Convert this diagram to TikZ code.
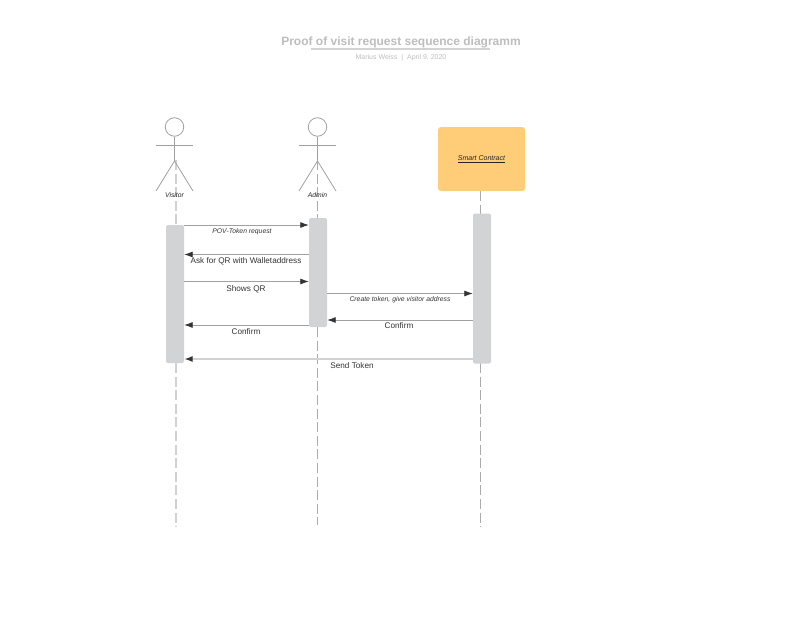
\documentclass[tikz,border=0pt]{standalone}
\usepackage{fontspec}
\usepackage{xcolor}
\setmainfont{Liberation Sans}
\usetikzlibrary{arrows.meta,positioning,calc}
\definecolor{lineGray}{HTML}{A0A0A0}
\definecolor{lifeGray}{HTML}{ABABAB}
\definecolor{lightGray}{HTML}{D2D2D2}
\definecolor{barGray}{HTML}{D2D3D5}
\definecolor{boxOrange}{HTML}{FFCC77}
\definecolor{titleGray}{HTML}{BDBDBD}
\definecolor{inkDark}{HTML}{333333}
\tikzset{
  actorline/.style={draw=lineGray,line width=0.8pt},
  lifeline/.style={draw=lifeGray,line width=1.1pt,dash pattern=on 10pt off 3.6pt},
  lifelinewide/.style={lifeline,draw=lightGray,line width=1.7pt},
  actbar/.style={draw=none,fill=barGray,rounded corners=2pt,minimum width=18pt,inner sep=0pt},
  msg/.style={draw=lineGray,line width=0.8pt,-{Latex[length=8.5pt,width=6pt,color=inkDark]}},
  msglight/.style={msg,draw=lightGray,line width=1.4pt},
  lab/.style={text=inkDark,font=\fontsize{8.2}{10}\selectfont,inner sep=0pt},
  labsmall/.style={text=inkDark,font=\fontsize{6.8}{8}\itshape\selectfont,inner sep=0pt},
}
\begin{document}
\begin{tikzpicture}[x=1pt,y=-1pt]
  \useasboundingbox (0,0) rectangle (800,618);

  % title block
  \node[text=titleGray,font=\fontsize{12}{14}\bfseries\selectfont,inner sep=0pt] (title) at (401,42.5) {Proof of visit request sequence diagramm};
  \node[text=titleGray,font=\fontsize{7}{8}\selectfont,inner sep=0pt] (subtitle) at (401,57.5) {Marius Weiss \ | \ April 9, 2020};
  \coordinate (ruleL) at (311,49);
  \coordinate (ruleR) at (490,49);
  \draw[draw=barGray,line width=1.2pt] (ruleL) -- (ruleR);

  % lifelines
  \foreach \nm/\x/\ya/\yb/\yc/\yd/\sty in {Visitor/176/160/225/363/527/lifelinewide,Admin/317.5/160/218/327/525/lifeline,Contract/480.5/191/214/363/527/lifeline}{
    \coordinate (life\nm A) at (\x,\ya);
    \coordinate (life\nm B) at (\x,\yb);
    \coordinate (life\nm C) at (\x,\yc);
    \coordinate (life\nm D) at (\x,\yd);
    \draw[\sty] (life\nm A) -- (life\nm B);
    \draw[\sty] (life\nm C) -- (life\nm D);
  }

  % activation bars
  \node[actbar,minimum height=138pt] (barVisitor) at (175,294) {};
  \node[actbar,minimum height=109pt] (barAdmin) at (318,272.5) {};
  \node[actbar,minimum height=150pt] (barContract) at (482,288.5) {};

  % smart contract box
  \node[fill=boxOrange,rounded corners=3pt,minimum width=87pt,minimum height=64pt,inner sep=0pt,
    font=\fontsize{7}{8}\itshape\selectfont,text=black!85] (contract) at (481.5,159) {\underline{Smart Contract}};

  % actors
  \foreach \nm/\x in {Visitor/174.5,Admin/317.5}{
    \node[circle,actorline,minimum size=18.5pt,inner sep=0pt] (head\nm) at (\x,127) {};
    \coordinate (armL\nm) at (\x-18.5,145);
    \coordinate (armR\nm) at (\x+18.5,145);
    \coordinate (hip\nm) at (\x,161);
    \coordinate (footL\nm) at (\x-18.5,191);
    \coordinate (footR\nm) at (\x+18.5,191);
    \draw[actorline] (head\nm) -- (hip\nm);
    \draw[actorline] (armL\nm) -- (armR\nm);
    \draw[actorline] (footL\nm) -- (hip\nm) -- (footR\nm);
    \node[labsmall,text=black!85] (name\nm) at (\x,195) {\nm};
  }

  % messages
  \foreach \y/\from/\fromside/\to/\toside/\sty in {
    225/Visitor/east/Admin/west/msg,
    254.5/Admin/west/Visitor/east/msg,
    281.5/Visitor/east/Admin/west/msg,
    293.5/Admin/east/Contract/west/msg,
    320/Contract/west/Admin/east/msg,
    325/Admin/west/Visitor/east/msg,
    359/Contract/west/Visitor/east/msglight}{
    \draw[\sty] (bar\from.\fromside |- 0,\y) -- (bar\to.\toside |- 0,\y);
  }

  % message labels
  \node[labsmall] (povLab) at (242,231.5) {POV-Token request};
  \node[lab] (askLab) at (246,261.5) {Ask for QR with Walletaddress};
  \node[lab] (showsLab) at (246,289) {Shows QR};
  \node[labsmall] (createLab) at (400,300) {Create token, give visitor address};
  \node[lab] (confirmLabB) at (399,325.5) {Confirm};
  \node[lab] (confirmLabA) at (246,331.5) {Confirm};
  \node[lab] (sendLab) at (352,365.5) {Send Token};
\end{tikzpicture}
\end{document}
